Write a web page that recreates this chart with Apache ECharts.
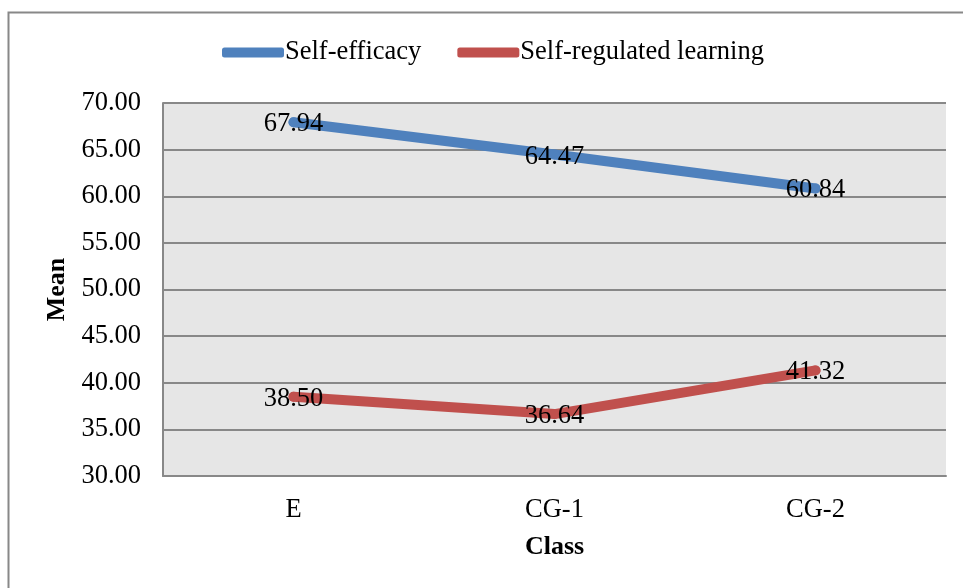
<!DOCTYPE html>
<html lang="en">
<head>
    <meta charset="UTF-8">
    <title>Mean by class</title>
    <script type="text/javascript" src="https://cdn.jsdelivr.net/npm/echarts@6/dist/echarts.min.js"></script>
    <style>
        html, body { margin: 0; padding: 0; background: #fff; }
        #main { width: 963px; height: 588px; }
    </style>
</head>
<body>
<div id="main"></div>
<script type="text/javascript">
    var classes = ['E', 'CG-1', 'CG-2'];
    var selfEfficacy = [67.94, 64.47, 60.84];
    var selfRegulated = [38.50, 36.64, 41.32];
    var seriesNames = ['Self-efficacy', 'Self-regulated learning'];

    var font = '"Liberation Serif", "Times New Roman", serif';
    var chart = echarts.init(document.getElementById('main'));

    function lineSeries(name, data, color) {
        return {
            name: name,
            type: 'line',
            data: data,
            symbol: 'circle',
            symbolSize: 10,
            lineStyle: { color: color, width: 10, cap: 'round' },
            itemStyle: { color: color },
            label: {
                show: true,
                position: 'inside',
                offset: [0, 2],
                color: '#000',
                fontFamily: font,
                fontSize: 26.5,
                formatter: function (p) { return p.value.toFixed(2); }
            },
            emphasis: { disabled: true },
            animation: false
        };
    }

    var option = {
        animation: false,
        graphic: [{
            type: 'rect',
            shape: { x: 8.5, y: 12.5, width: 1000, height: 1000 },
            style: { fill: 'none', stroke: '#888', lineWidth: 2 },
            silent: true
        }],
        legend: {
            data: seriesNames,
            top: 34,
            left: 217,
            itemWidth: 62,
            itemHeight: 10,
            itemGap: 36,
            icon: 'roundRect',
            textStyle: { fontFamily: font, fontSize: 26.5, color: '#000', padding: [0, 0, 0, -4] }
        },
        grid: {
            left: 163,
            right: 17,
            top: 103,
            bottom: 112,
            show: true,
            backgroundColor: '#e6e6e6',
            borderWidth: 0
        },
        xAxis: {
            type: 'category',
            data: classes,
            boundaryGap: true,
            name: 'Class',
            nameLocation: 'middle',
            nameGap: 58,
            nameTextStyle: { fontFamily: font, fontSize: 26, fontWeight: 'bold', color: '#000' },
            axisLine: { lineStyle: { color: '#888', width: 2 } },
            axisTick: { show: false },
            axisLabel: { fontFamily: font, fontSize: 26.5, color: '#000', margin: 21 }
        },
        yAxis: {
            type: 'value',
            min: 30,
            max: 70,
            interval: 5,
            name: 'Mean',
            nameLocation: 'middle',
            nameGap: 92,
            nameTextStyle: { fontFamily: font, fontSize: 26, fontWeight: 'bold', color: '#000' },
            axisLine: { show: true, lineStyle: { color: '#888', width: 2 } },
            axisTick: { show: false },
            axisLabel: {
                fontFamily: font, fontSize: 26.5, color: '#000', margin: 22,
                formatter: function (v) { return v.toFixed(2); }
            },
            splitLine: { lineStyle: { color: '#888', width: 2 } }
        },
        series: [
            lineSeries(seriesNames[0], selfEfficacy, '#4f81bd'),
            lineSeries(seriesNames[1], selfRegulated, '#c0504d')
        ]
    };
    chart.setOption(option);
</script>
</body>
</html>
